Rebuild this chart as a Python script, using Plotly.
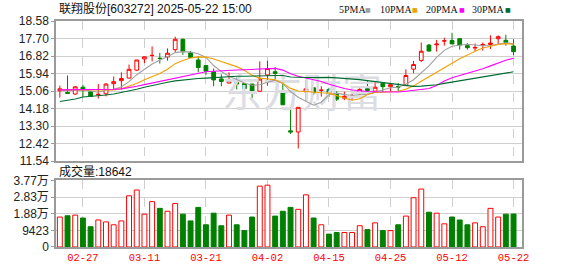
import plotly.graph_objects as go

dates = ["02-24","02-25","02-26","02-27","02-28","03-03","03-04","03-05","03-06","03-07",
         "03-10","03-11","03-12","03-13","03-14","03-17","03-18","03-19","03-20","03-21",
         "03-24","03-25","03-26","03-27","03-28","03-31","04-01","04-02","04-03","04-07",
         "04-08","04-09","04-10","04-11","04-14","04-15","04-16","04-17","04-18","04-21",
         "04-22","04-23","04-24","04-25","04-28","04-29","04-30","05-06","05-07","05-08",
         "05-09","05-12","05-13","05-14","05-15","05-16","05-19","05-20","05-21","05-22"]

opens = [15.07,14.99,14.91,15.25,15.02,14.89,14.92,15.43,15.58,15.71,
         16.11,16.67,16.85,16.70,16.77,17.14,17.66,16.98,16.62,16.34,
         16.03,15.67,15.46,15.54,15.43,15.41,15.05,15.87,16.03,15.05,
         13.06,13.00,15.02,15.22,15.10,15.14,14.89,14.70,14.76,14.92,
         15.18,15.05,15.45,15.28,15.28,15.33,16.16,16.60,17.37,17.38,
         17.58,17.60,17.69,17.34,17.22,17.37,17.40,17.69,17.61,17.32]
highs = [15.33,15.84,15.30,15.38,15.05,15.41,15.45,15.79,16.00,16.39,
         16.62,16.80,17.30,16.98,17.20,17.79,17.69,17.07,16.81,16.36,
         16.19,15.90,16.00,15.74,15.45,15.42,16.55,16.59,16.26,15.58,
         14.14,14.24,15.61,15.23,15.30,15.22,15.05,15.02,15.02,15.25,
         15.58,15.54,15.51,15.45,15.46,16.15,16.57,17.50,17.42,17.63,
         17.74,17.99,17.70,17.47,17.45,17.50,17.86,17.86,17.89,17.66]
lows = [14.73,14.92,14.87,14.76,14.78,14.68,14.79,15.17,15.14,15.69,
        16.06,16.46,16.55,16.44,16.59,17.01,16.88,16.72,16.00,15.87,
        15.30,15.30,15.45,15.14,15.17,14.70,15.04,15.33,15.66,14.36,
        12.90,12.17,14.56,14.86,14.78,14.76,14.56,14.60,14.60,14.86,
        15.05,15.02,15.02,15.05,15.05,15.32,15.95,16.52,17.04,17.04,
        17.34,17.43,17.14,17.14,17.04,17.09,17.17,17.42,17.34,16.85]
closes = [15.17,14.94,15.27,15.12,14.79,14.89,15.41,15.53,15.69,16.15,
          16.62,16.78,16.85,16.70,16.96,17.66,17.04,16.75,16.24,16.06,
          15.62,15.54,15.58,15.41,15.18,15.05,15.66,16.19,15.95,14.37,
          13.00,14.24,15.17,14.97,15.10,14.89,14.65,14.79,14.79,15.14,
          15.09,15.25,15.28,15.38,15.25,15.84,16.39,17.06,17.07,17.42,
          17.58,17.43,17.37,17.24,17.25,17.40,17.47,17.79,17.50,17.04]
volumes = [16935,17664,18028,16389,11472,15296,14204,12565,14750,28954,
           32232,18574,25676,21852,20213,24584,18574,14750,22398,12565,
           19121,12019,18028,12565,9287,16935,34417,34963,17482,20213,
           22398,21306,29500,16389,12565,7284,8195,8195,8195,12019,
           9833,13658,9287,9287,12565,17482,27861,32778,19667,19121,
           13111,16935,15296,12565,13658,11472,21852,16935,18574,18642]

ma5_head = [15.10, 15.08, 15.10, 15.12]
ma10_head = [15.12, 15.12, 15.13, 15.13, 15.12, 15.10, 15.10, 15.12, 15.17]
ma20_head = [15.12, 15.12, 15.13, 15.13, 15.13, 15.13, 15.14, 15.15, 15.17, 15.22,
             15.30, 15.38, 15.46, 15.54, 15.62, 15.71, 15.79, 15.86, 15.93]
ma30_head = [14.53, 14.58, 14.66, 14.76, 14.79, 14.81, 14.86, 14.91, 14.98, 15.05,
             15.15, 15.25, 15.34, 15.43, 15.50, 15.57, 15.62, 15.66, 15.69, 15.71,
             15.74, 15.77, 15.80, 15.80, 15.80, 15.80, 15.81, 15.83, 15.84]

price_ticks = [11.54, 12.42, 13.30, 14.18, 15.06, 15.94, 16.82, 17.70, 18.58]
vol_tickvals = [0, 9423, 18846, 28269, 37692]
vol_ticktext = ["0", "9423", "1.88万", "2.83万", "3.77万"]
label_idx = [3, 11, 19, 27, 35, 43, 51, 59]
title_text = "联翔股份[603272] 2025-05-22 15:00"
ma_names = ["5PMA", "10PMA", "20PMA", "30PMA"]
ma_colors = ["#a0a0a0", "#f0a000", "#ff00ff", "#006b30"]

RED = "#ff0000"
GREEN = "#008000"

n = len(closes)
x = list(range(n))


def ma(period, head):
    out = []
    for i in range(n):
        if i < period - 1:
            out.append(head[i])
        else:
            out.append(sum(closes[i - period + 1:i + 1]) / period)
    return out


mas = [ma(5, ma5_head), ma(10, ma10_head), ma(20, ma20_head), ma(30, ma30_head)]

# volume colour: up/down by candle, doji by previous close
vol_up = []
for i in range(n):
    if closes[i] > opens[i]:
        vol_up.append(True)
    elif closes[i] < opens[i]:
        vol_up.append(False)
    else:
        prev = closes[i - 1] if i > 0 else closes[i]
        vol_up.append(closes[i] >= prev)

fig = go.Figure()

# watermark
fig.add_trace(go.Scatter(x=[31.5], y=[14.75], mode="text", text=["东方财富"],
                         textfont=dict(size=40, color="#dcdce3",
                                       family="Noto Sans CJK SC"),
                         hoverinfo="skip", showlegend=False,
                         xaxis="x", yaxis="y"))

fig.add_trace(go.Candlestick(
    x=x, open=opens, high=highs, low=lows, close=closes,
    increasing=dict(line=dict(color=RED, width=1), fillcolor="#ffffff"),
    decreasing=dict(line=dict(color=GREEN, width=1), fillcolor=GREEN),
    whiskerwidth=0, showlegend=False, xaxis="x", yaxis="y"))

for vals, col in zip(mas, ma_colors):
    fig.add_trace(go.Scatter(x=x, y=vals, mode="lines",
                             line=dict(color=col, width=1.1),
                             showlegend=False, hoverinfo="skip",
                             xaxis="x", yaxis="y"))

fig.add_trace(go.Bar(
    x=x, y=volumes, width=0.64,
    marker=dict(color=["#ffffff" if u else GREEN for u in vol_up],
                line=dict(color=[RED if u else GREEN for u in vol_up], width=1)),
    showlegend=False, xaxis="x2", yaxis="y2"))

L, R, T, B = 56, 56, 21, 21
W, H = 578, 276
ph = H - T - B
pw = W - L - R
main_bottom = (255 - 166) / ph
vol_top = (255 - 186) / ph

xr = [-0.5, 60.1]
grid = "#cfcfcf"
frame = "#9a9a9a"
axfont = dict(family="Liberation Sans, Noto Sans CJK SC", size=12, color="#222222")

fig.update_layout(
    width=W, height=H,
    margin=dict(l=L, r=R, t=T, b=B),
    paper_bgcolor="white", plot_bgcolor="white",
    showlegend=False,
    xaxis=dict(domain=[0, 1], range=xr, anchor="y", rangeslider=dict(visible=False),
               tickvals=label_idx, showticklabels=False, ticks="",
               showgrid=True, gridcolor=grid, griddash="dash", gridwidth=1,
               showline=True, mirror=True, linecolor=frame, linewidth=1.5,
               zeroline=False),
    yaxis=dict(domain=[main_bottom, 1], range=[price_ticks[0], price_ticks[-1]],
               tickvals=price_ticks, ticktext=["%.2f" % v for v in price_ticks],
               showgrid=True, gridcolor=grid, gridwidth=1.2,
               ticks="outside", ticklen=3, tickcolor=frame,
               showline=True, mirror=True, linecolor=frame, linewidth=1.5,
               zeroline=False, tickfont=axfont),
    xaxis2=dict(domain=[0, 1], range=xr, anchor="y2",
                tickvals=label_idx, ticktext=[dates[i] for i in label_idx],
                tickfont=dict(family="Liberation Mono", size=10.5, color=RED),
                ticks="", showgrid=True, gridcolor=grid, griddash="dash",
                showline=True, mirror=True, linecolor=frame, linewidth=1.5,
                zeroline=False),
    yaxis2=dict(domain=[0, vol_top], range=[0, vol_tickvals[-1]],
                tickvals=vol_tickvals, ticktext=vol_ticktext,
                showgrid=True, gridcolor=grid, gridwidth=1.2,
                ticks="outside", ticklen=3, tickcolor=frame,
                showline=True, mirror=True, linecolor=frame, linewidth=1.5,
                zeroline=False, tickfont=axfont),
)

def px_x(p):
    return (p - L) / pw

def px_y(p):
    return (H - B - p) / ph

ann = [dict(text=title_text, x=px_x(57), y=px_y(9), xref="paper", yref="paper",
            xanchor="left", yanchor="middle", showarrow=False,
            font=dict(family="Liberation Sans, Noto Sans CJK SC", size=12, color="#111111")),
       dict(text="成交量:%d" % volumes[-1], x=px_x(57), y=px_y(177), xref="paper", yref="paper",
            xanchor="left", yanchor="middle", showarrow=False,
            font=dict(family="Liberation Sans, Noto Sans CJK SC", size=12, color="#111111"))]

legend_text_x = [337, 378, 424, 470]
legend_sq_x = [368, 415, 462, 508]
for name, col, tx, sx in zip(ma_names, ma_colors, legend_text_x, legend_sq_x):
    ann.append(dict(text=name, x=px_x(tx), y=px_y(9), xref="paper", yref="paper",
                    xanchor="left", yanchor="middle", showarrow=False,
                    font=dict(family="Liberation Serif", size=10, color="#111111")))
    ann.append(dict(text="■", x=px_x(sx), y=px_y(9), xref="paper", yref="paper",
                    xanchor="center", yanchor="middle", showarrow=False,
                    font=dict(family="DejaVu Sans", size=6, color=col)))

fig.update_layout(annotations=ann)

fig.write_html("out.html")
